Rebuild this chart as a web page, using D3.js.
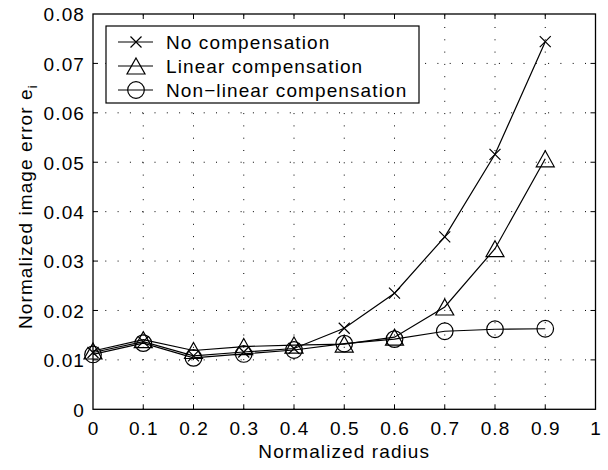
<!DOCTYPE html>
<html>
<head>
<meta charset="utf-8">
<script src="https://cdn.jsdelivr.net/npm/d3@7/dist/d3.min.js"></script>
<style>
  html, body { margin: 0; padding: 0; background: #fff; }
  svg text { font-family: "Liberation Sans", Arial, Helvetica, sans-serif; fill: #000; }
</style>
</head>
<body>
<svg id="chart" width="608" height="470"></svg>
<script>
// Normalized radius samples
const radius = [0, 0.1, 0.2, 0.3, 0.4, 0.5, 0.6, 0.7, 0.8, 0.9];

// Normalized image error for each compensation method
const noCompensation     = [0.0115, 0.0137, 0.0108, 0.0116, 0.0123, 0.0164, 0.0235, 0.0349, 0.0516, 0.0744];
const linearCompensation = [0.0118, 0.0141, 0.0119, 0.0127, 0.0130, 0.0132, 0.0146, 0.0207, 0.0325, 0.0507];
const nonlinCompensation = [0.0111, 0.0134, 0.0104, 0.0112, 0.0120, 0.0133, 0.0142, 0.0158, 0.0162, 0.0163];

const seriesNames = ["No compensation", "Linear compensation", "Non\u2212linear compensation"];
const seriesMarkers = ["cross", "triangle", "circle"];

const xTicks = [0, 0.1, 0.2, 0.3, 0.4, 0.5, 0.6, 0.7, 0.8, 0.9, 1];
const yTicks = [0, 0.01, 0.02, 0.03, 0.04, 0.05, 0.06, 0.07, 0.08];

const svg = d3.select("#chart");
const plotL = 93, plotR = 595.5, plotT = 14, plotB = 409.3;

const x = d3.scaleLinear().domain([0, 1]).range([plotL, plotR]);
const y = d3.scaleLinear().domain([0, 0.08]).range([plotB, plotT]);

const fontSize = 19, spacing = "1.1px";

// dotted grid
const grid = svg.append("g").attr("stroke", "#000").attr("stroke-width", 1)
  .attr("stroke-dasharray", "1,11.3").attr("fill", "none");
xTicks.slice(1, -1).forEach(t => {
  grid.append("line").attr("x1", x(t)).attr("x2", x(t)).attr("y1", plotB).attr("y2", plotT);
});
yTicks.slice(1, -1).forEach(t => {
  grid.append("line").attr("x1", plotL).attr("x2", plotR).attr("y1", y(t)).attr("y2", y(t));
});

// axes: ticks point inward on all four sides
const tickLen = 5;
const axisBottom = d3.axisBottom(x).tickValues(xTicks).tickSize(0).tickPadding(12)
  .tickFormat(d => d === 0 ? "0" : d === 1 ? "1" : d3.format(".1f")(d));
const axisLeft = d3.axisLeft(y).tickValues(yTicks).tickSize(0).tickPadding(8)
  .tickFormat(d => d === 0 ? "0" : d3.format(".2f")(d));

const gx = svg.append("g").attr("transform", `translate(0,${plotB})`).call(axisBottom);
const gy = svg.append("g").attr("transform", `translate(${plotL},0)`).call(axisLeft);
[gx, gy].forEach(g => {
  g.select(".domain").remove();
  g.attr("font-family", null).attr("font-size", null);
  g.selectAll("text").attr("font-size", fontSize).style("letter-spacing", spacing);
});
gx.selectAll("text").attr("dy", "0.71em");
gy.selectAll("text").attr("dy", "0.36em");

const ticks = svg.append("g").attr("stroke", "#000").attr("stroke-width", 1);
xTicks.slice(1, -1).forEach(t => {
  ticks.append("line").attr("x1", x(t)).attr("x2", x(t)).attr("y1", plotB).attr("y2", plotB - tickLen);
  ticks.append("line").attr("x1", x(t)).attr("x2", x(t)).attr("y1", plotT).attr("y2", plotT + tickLen);
});
yTicks.slice(1, -1).forEach(t => {
  ticks.append("line").attr("x1", plotL).attr("x2", plotL + tickLen).attr("y1", y(t)).attr("y2", y(t));
  ticks.append("line").attr("x1", plotR).attr("x2", plotR - tickLen).attr("y1", y(t)).attr("y2", y(t));
});

svg.append("rect").attr("x", plotL).attr("y", plotT)
  .attr("width", plotR - plotL).attr("height", plotB - plotT)
  .attr("fill", "none").attr("stroke", "#000").attr("stroke-width", 1.3);

// axis titles
svg.append("text").attr("x", (plotL + plotR) / 2).attr("y", 458)
  .attr("text-anchor", "middle").attr("font-size", fontSize).style("letter-spacing", spacing)
  .text("Normalized radius");

const yl = svg.append("text").attr("transform", `translate(32,${(plotT + plotB) / 2 - 5}) rotate(-90)`)
  .attr("text-anchor", "middle").attr("font-size", fontSize).style("letter-spacing", spacing);
yl.append("tspan").text("Normalized image error e");
yl.append("tspan").attr("font-size", 13).attr("dy", 5).text("i");

// marker shapes
function drawMarker(g, type, cx, cy) {
  if (type === "cross") {
    const s = 5.5;
    g.append("path").attr("d", `M${cx - s},${cy - s}L${cx + s},${cy + s}M${cx - s},${cy + s}L${cx + s},${cy - s}`);
  } else if (type === "triangle") {
    g.append("path").attr("d", `M${cx},${cy - 8}L${cx + 9},${cy + 8}L${cx - 9},${cy + 8}Z`);
  } else {
    g.append("circle").attr("cx", cx).attr("cy", cy).attr("r", 8.3);
  }
}

// data lines
const allSeries = [noCompensation, linearCompensation, nonlinCompensation];
const line = d3.line().x((d, i) => x(radius[i])).y(d => y(d));
const plot = svg.append("g").attr("fill", "none").attr("stroke", "#000").attr("stroke-width", 1.2);
allSeries.forEach((vals, k) => {
  plot.append("path").attr("d", line(vals));
  vals.forEach((v, i) => drawMarker(plot, seriesMarkers[k], x(radius[i]), y(v)));
});

// legend
const lg = svg.append("g");
lg.append("rect").attr("x", 106).attr("y", 26).attr("width", 313).attr("height", 77)
  .attr("fill", "#fff").attr("stroke", "#000").attr("stroke-width", 1.2);
const rowY = [42, 66, 90];
seriesNames.forEach((name, k) => {
  const g = lg.append("g").attr("fill", "none").attr("stroke", "#000").attr("stroke-width", 1.2);
  g.append("line").attr("x1", 118).attr("x2", 153).attr("y1", rowY[k]).attr("y2", rowY[k]);
  drawMarker(g, seriesMarkers[k], 136, rowY[k]);
  lg.append("text").attr("x", 166).attr("y", rowY[k]).attr("dy", "0.36em")
    .attr("font-size", fontSize).style("letter-spacing", spacing).text(name);
});
</script>
</body>
</html>
